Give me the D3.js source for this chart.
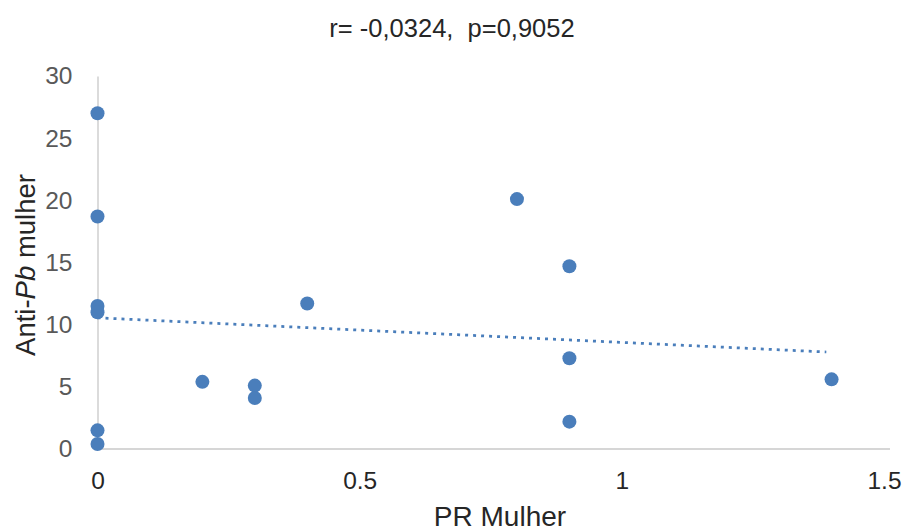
<!DOCTYPE html>
<html>
<head>
<meta charset="utf-8">
<script src="https://cdn.jsdelivr.net/npm/d3@7"></script>
<style>
  html, body { margin: 0; padding: 0; background: #fff; }
  svg { display: block; font-family: "Liberation Sans", Arial, sans-serif; }
</style>
</head>
<body>
<svg id="chart" width="905" height="532"></svg>
<script>
// PR values (x) and anti-Pb levels (y) for each woman
const prMulher = [0, 0, 0, 0, 0, 0, 0.2, 0.3, 0.3, 0.4, 0.8, 0.9, 0.9, 0.9, 1.4];
const antiPb   = [27, 18.7, 11.5, 11.0, 1.5, 0.4, 5.4, 5.1, 4.1, 11.7, 20.1, 14.7, 7.3, 2.2, 5.6];

// Linear trend line end points
const trendX = [0, 1.39];
const trendY = [10.55, 7.8];

const xTicks = [0, 0.5, 1, 1.5];
const yTicks = [0, 5, 10, 15, 20, 25, 30];

const titleText = "r= -0,0324,  p=0,9052";
const xTitle = "PR Mulher";

const svg = d3.select("#chart");

const x = d3.scaleLinear().domain([0, 1.5]).range([97.5, 884]);
const y = d3.scaleLinear().domain([0, 30]).range([449, 76]);

// Y axis
const yAxis = svg.append("g").attr("transform", `translate(${x(0)},0)`)
  .call(d3.axisLeft(y).tickValues(yTicks).tickSize(0).tickPadding(25));
yAxis.select(".domain").attr("stroke", "#c8c8c8").attr("stroke-width", 1.3);
yAxis.selectAll("text").attr("fill", "#595959").attr("font-size", 24.5)
  .attr("font-family", "Liberation Sans, Arial, sans-serif");

// X axis
const xAxis = svg.append("g").attr("transform", `translate(0,${y(0)})`)
  .call(d3.axisBottom(x).tickValues(xTicks).tickSize(0).tickPadding(23).tickFormat(d3.format("")));
xAxis.select(".domain").attr("stroke", "#c8c8c8").attr("stroke-width", 1.3)
  .attr("d", `M${x(0)},0H${x(1.5) + 6}`);
xAxis.selectAll("text").attr("fill", "#262626").attr("font-size", 24.5)
  .attr("font-family", "Liberation Sans, Arial, sans-serif");

// Trend line
svg.append("line")
  .attr("x1", x(trendX[0])).attr("y1", y(trendY[0]))
  .attr("x2", x(trendX[1])).attr("y2", y(trendY[1]))
  .attr("stroke", "#4a7ebb").attr("stroke-width", 2.7)
  .attr("stroke-dasharray", "3,5");

// Points
svg.append("g").selectAll("circle")
  .data(prMulher.map((d, i) => [d, antiPb[i]]))
  .join("circle")
  .attr("cx", d => x(d[0]))
  .attr("cy", d => y(d[1]))
  .attr("r", 7)
  .attr("fill", "#4a7ebb");

// Title
svg.append("text")
  .attr("x", 452).attr("y", 37)
  .attr("text-anchor", "middle")
  .style("white-space", "pre")
  .attr("font-size", 25.5).attr("fill", "#262626")
  .text(titleText);

// X axis title
svg.append("text")
  .attr("x", 500).attr("y", 526)
  .attr("text-anchor", "middle")
  .attr("font-size", 28).attr("fill", "#262626")
  .text(xTitle);

// Y axis title with italic Pb
const yt = svg.append("text")
  .attr("transform", "translate(35,265) rotate(-90)")
  .attr("text-anchor", "middle")
  .attr("font-size", 27.5).attr("fill", "#262626");
yt.append("tspan").text("Anti-");
yt.append("tspan").attr("font-style", "italic").text("Pb");
yt.append("tspan").text(" mulher");
</script>
</body>
</html>
